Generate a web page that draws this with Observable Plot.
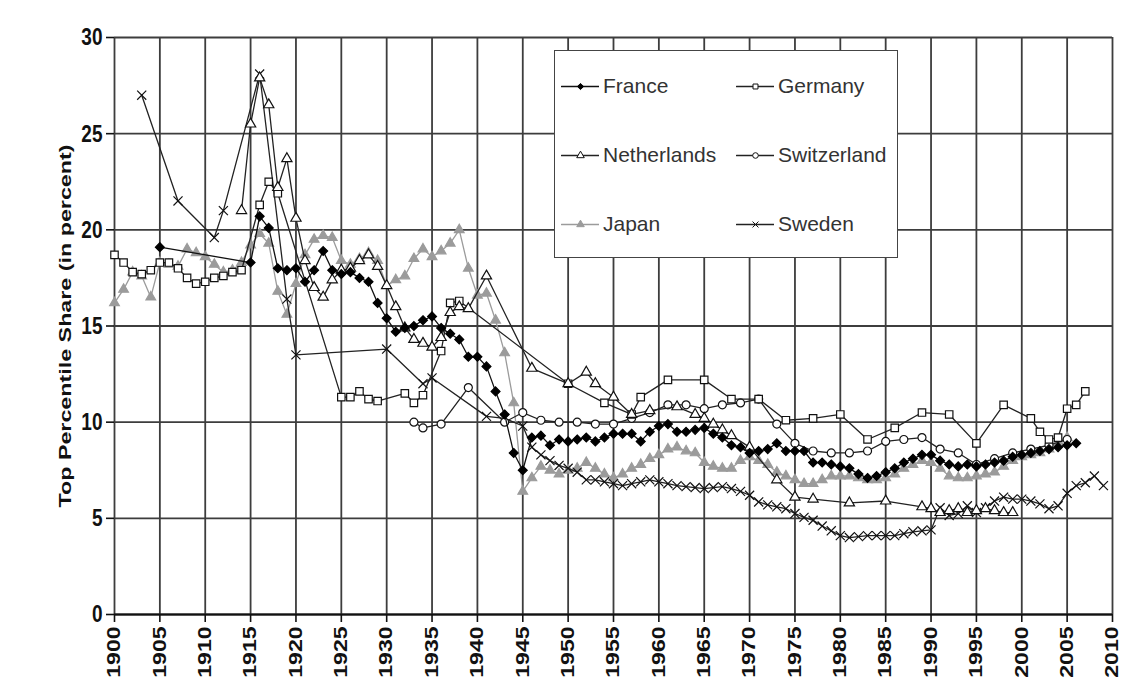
<!DOCTYPE html>
<html><head><meta charset="utf-8">
<script src="https://cdn.jsdelivr.net/npm/d3@7"></script>
<script src="https://cdn.jsdelivr.net/npm/@observablehq/plot@0.6"></script>
<style>
html,body{margin:0;padding:0;background:#fff;}
#wrap{position:relative;width:1129px;height:682px;overflow:hidden;background:#fff;}
#legend{position:absolute;left:554px;top:50px;width:342px;height:206px;background:#fff;border:1.6px solid #444;font-family:"Liberation Sans",Arial,sans-serif;font-size:21px;color:#333;}
.item{position:absolute;display:flex;align-items:center;height:30px;}
.item svg{margin-right:4px;}
</style></head><body><div id="wrap"></div>
<script>
// ---- data ----
const franceYears = [1905,1915,1916,1917,1918,1919,1920,1921,1922,1923,1924,1925,1926,1927,1928,1929,1930,1931,1932,1933,1934,1935,1936,1937,1938,1939,1940,1941,1942,1943,1944,1945,1946,1947,1948,1949,1950,1951,1952,1953,1954,1955,1956,1957,1958,1959,1960,1961,1962,1963,1964,1965,1966,1967,1968,1969,1970,1971,1972,1973,1974,1975,1976,1977,1978,1979,1980,1981,1982,1983,1984,1985,1986,1987,1988,1989,1990,1991,1992,1993,1994,1995,1996,1997,1998,1999,2000,2001,2002,2003,2004,2005,2006];
const franceValues = [19.1,18.3,20.7,20.1,18.0,17.9,18.0,17.3,17.9,18.9,17.9,17.7,17.8,17.5,17.3,16.2,15.4,14.7,14.9,15.0,15.3,15.5,14.9,14.6,14.3,13.4,13.4,12.9,11.6,10.4,8.4,7.5,9.2,9.3,8.8,9.1,9.0,9.1,9.2,9.0,9.2,9.4,9.4,9.4,9.0,9.5,9.8,9.9,9.5,9.5,9.6,9.7,9.4,9.2,8.8,8.7,8.4,8.5,8.6,8.9,8.5,8.5,8.5,7.9,7.9,7.8,7.7,7.6,7.3,7.1,7.2,7.4,7.6,7.9,8.1,8.3,8.3,8.0,7.8,7.7,7.8,7.7,7.8,7.9,8.0,8.2,8.3,8.4,8.5,8.6,8.7,8.8,8.9];

const germanyYears = [1900,1901,1902,1903,1904,1905,1906,1907,1908,1909,1910,1911,1912,1913,1914,1916,1917,1918,1925,1926,1927,1928,1929,1932,1933,1934,1936,1937,1938,1950,1954,1957,1958,1961,1965,1968,1971,1974,1977,1980,1983,1986,1989,1992,1995,1998,2001,2002,2003,2004,2005,2006,2007];
const germanyValues = [18.7,18.3,17.8,17.7,17.9,18.3,18.3,18.0,17.5,17.2,17.3,17.5,17.6,17.8,17.9,21.3,22.5,21.9,11.3,11.3,11.6,11.2,11.1,11.5,11.0,11.4,13.7,16.2,16.3,12.0,11.0,10.4,11.3,12.2,12.2,11.2,11.2,10.1,10.2,10.4,9.1,9.7,10.5,10.4,8.9,10.9,10.2,9.5,9.1,9.2,10.7,10.9,11.6];

const netherlandsYears = [1914,1915,1916,1917,1918,1919,1920,1921,1922,1923,1924,1925,1926,1927,1928,1929,1930,1931,1932,1933,1934,1935,1936,1937,1938,1939,1941,1946,1950,1952,1953,1955,1957,1959,1962,1964,1965,1966,1967,1968,1970,1973,1975,1977,1981,1985,1989,1990,1991,1992,1993,1994,1995,1996,1997,1998,1999];
const netherlandsValues = [21.0,25.5,27.9,26.5,22.2,23.7,20.6,18.4,17.0,16.5,17.4,17.9,18.0,18.4,18.7,18.1,17.1,16.0,14.9,14.3,14.1,13.9,14.4,15.7,16.0,15.9,17.6,12.8,12.0,12.6,12.0,11.3,10.4,10.6,10.8,10.4,10.2,9.9,9.6,9.3,8.7,7.0,6.1,6.0,5.8,5.9,5.6,5.5,5.3,5.4,5.5,5.3,5.4,5.5,5.4,5.3,5.3];

const switzerlandYears = [1933,1934,1936,1939,1943,1945,1947,1949,1951,1953,1955,1957,1959,1961,1963,1965,1967,1969,1971,1973,1975,1977,1979,1981,1983,1985,1987,1989,1991,1993,1995,1997,1999,2001,2003,2005];
const switzerlandValues = [10.0,9.7,9.9,11.8,10.0,10.5,10.1,10.0,10.0,9.9,9.9,10.2,10.5,10.9,10.9,10.7,10.9,11.0,11.2,9.9,8.9,8.5,8.4,8.4,8.5,9.0,9.1,9.2,8.6,8.4,7.8,8.1,8.4,8.6,8.8,9.1];

const japanYears = d3.range(1900, 2006);
const japanValues = [16.2,16.9,17.8,17.6,16.5,18.3,18.2,18.1,19.0,18.8,18.6,18.2,17.8,17.9,18.3,19.2,19.8,19.3,16.8,15.6,17.2,18.7,19.5,19.7,19.6,18.4,18.2,18.5,18.8,18.4,17.1,17.4,17.6,18.5,19.0,18.6,18.9,19.3,20.0,18.0,16.6,16.7,15.3,13.6,11.0,6.4,7.1,7.7,7.5,7.3,7.5,7.6,7.9,7.6,7.3,7.1,7.3,7.6,7.8,8.1,8.3,8.6,8.7,8.5,8.4,7.9,7.7,7.6,7.6,8.0,8.2,8.0,7.8,7.4,7.2,7.0,6.8,6.8,7.0,7.2,7.2,7.2,7.1,7.0,7.0,7.1,7.3,7.6,7.8,8.0,7.9,7.6,7.2,7.1,7.1,7.2,7.3,7.4,7.7,8.0,8.2,8.3,8.4,8.6,9.0,9.2];

const swedenYears = [1903,1907,1911,1912,1916,1919,1920,1930,1934,1935,1941,1943,1945,1946,1947,1948,1949,1950,1951,1952,1953,1954,1955,1956,1957,1958,1959,1960,1961,1962,1963,1964,1965,1966,1967,1968,1969,1970,1971,1972,1973,1974,1975,1976,1977,1978,1979,1980,1981,1982,1983,1984,1985,1986,1987,1988,1989,1990,1991,1992,1993,1994,1995,1996,1997,1998,1999,2000,2001,2002,2003,2004,2005,2006,2007,2008,2009];
const swedenValues = [27.0,21.5,19.6,21.0,28.1,16.4,13.5,13.8,12.0,12.3,10.3,10.2,9.8,8.7,8.3,8.0,7.75,7.6,7.4,7.0,7.0,6.9,6.8,6.7,6.8,6.9,7.0,6.9,6.8,6.7,6.65,6.6,6.55,6.6,6.65,6.55,6.4,6.2,5.85,5.7,5.6,5.5,5.25,5.05,4.9,4.6,4.35,4.1,4.0,4.05,4.1,4.1,4.1,4.1,4.2,4.3,4.35,4.4,5.55,5.15,5.25,5.65,5.3,5.55,5.9,6.1,6.0,6.0,5.9,5.75,5.5,5.65,6.3,6.7,6.85,7.2,6.7];

const xTicks = d3.range(1900, 2011, 5);
const yTicks = [0, 5, 10, 15, 20, 25, 30];
const yLabel = "Top Percentile Share (in percent)";

// ---- series styling (drawing order: Japan first, under the black series) ----
const series = [
  {name: "Japan", years: japanYears, values: japanValues, stroke: "#9b9b9b", symbol: "triangle", fill: "#9b9b9b", mstroke: "#9b9b9b", r: 3.6},
  {name: "Sweden", years: swedenYears, values: swedenValues, stroke: "#222", symbol: "times", fill: "none", mstroke: "#111", r: 4.2},
  {name: "Switzerland", years: switzerlandYears, values: switzerlandValues, stroke: "#222", symbol: "circle", fill: "#fff", mstroke: "#111", r: 4},
  {name: "Germany", years: germanyYears, values: germanyValues, stroke: "#222", symbol: "square", fill: "#fff", mstroke: "#111", r: 4.2},
  {name: "Netherlands", years: netherlandsYears, values: netherlandsValues, stroke: "#222", symbol: "triangle", fill: "#fff", mstroke: "#111", r: 3.8},
  {name: "France", years: franceYears, values: franceValues, stroke: "#111", symbol: "diamond2", fill: "#000", mstroke: "#000", r: 4}
];

const marks = [
  Plot.gridX(xTicks, {stroke: "#3d3d3d", strokeOpacity: 1, strokeWidth: 1.8}),
  Plot.gridY(yTicks, {stroke: "#3d3d3d", strokeOpacity: 1, strokeWidth: 1.8})
];
for (const s of series) {
  const rows = s.years.map((yr, i) => ({year: yr, value: s.values[i]}));
  marks.push(Plot.line(rows, {x: "year", y: "value", stroke: s.stroke, strokeWidth: 1.3}));
  marks.push(Plot.dot(rows, {x: "year", y: "value", symbol: () => s.symbol, fill: s.fill, stroke: s.mstroke, strokeWidth: 1.2, r: s.r}));
}
marks.push(
  Plot.ruleY([0], {stroke: "#111", strokeWidth: 2}),
  Plot.axisX({ticks: xTicks, tickFormat: d => String(d), tickRotate: -90, tickSize: 8, tickPadding: 4, fontSize: 18, fontWeight: "bold", label: null, stroke: "#111", strokeWidth: 1.6}),
  Plot.axisY({ticks: yTicks, tickSize: 8, tickPadding: 4, fontSize: 19, fontWeight: "bold", label: null, stroke: "#111", strokeWidth: 1.6}),
  Plot.text([yLabel], {text: d => d, frameAnchor: "left", textAnchor: "middle", lineAnchor: "middle", rotate: -90, dx: -49, fontSize: 17, fontWeight: "bold", fill: "#111"})
);

const chart = Plot.plot({
  width: 1129, height: 682,
  marginLeft: 114, marginRight: 17, marginTop: 37, marginBottom: 68,
  x: {domain: [1900, 2010]},
  y: {domain: [0, 30]},
  style: {fontFamily: "'Liberation Sans', Arial, sans-serif", fontWeight: "bold", color: "#111", background: "#fff", overflow: "hidden"},
  marks
});

// the original figure is vertically stretched: stretch text glyphs likewise
function stretch(texts, sx, sy) {
  texts.forEach(t => {
    const tr = t.getAttribute("transform");
    if (tr) t.setAttribute("transform", tr + ` scale(${sx},${sy})`);
    else {
      const x = +t.getAttribute("x") || 0, y = +t.getAttribute("y") || 0;
      t.removeAttribute("x"); t.removeAttribute("y");
      t.setAttribute("transform", `translate(${x},${y}) scale(${sx},${sy})`);
    }
  });
}
stretch(chart.querySelectorAll('[aria-label="x-axis tick label"] text'), 1.28, 1);
stretch(chart.querySelectorAll('[aria-label="y-axis tick label"] text'), 1, 1.3);
stretch(chart.querySelectorAll('[aria-label="text"] text'), 1.37, 1);

const wrap = document.getElementById("wrap");
wrap.appendChild(chart);

// ---- legend ----
const legendOrder = ["France", "Germany", "Netherlands", "Switzerland", "Japan", "Sweden"];
const legend = document.createElement("div");
legend.id = "legend";
legendOrder.forEach((name, i) => {
  const s = series.find(d => d.name === name);
  const col = i % 2, row = Math.floor(i / 2);
  const item = document.createElement("div");
  item.className = "item";
  item.style.left = (col ? 181 : 6) + "px";
  item.style.top = (20 + row * 69) + "px";
  const sym = Plot.plot({
    width: 38, height: 30, margin: 0,
    x: {domain: [0, 1]}, y: {domain: [0, 1]}, axis: null,
    marks: [
      Plot.lineY([0.5, 0.5], {x: [0, 1], y: [0.5, 0.5], stroke: s.stroke, strokeWidth: 1.3}),
      Plot.dot([0], {x: 0.5, y: 0.5, symbol: () => s.symbol, fill: s.fill, stroke: s.mstroke, r: 2.8, strokeWidth: 1})
    ]
  });
  item.appendChild(sym);
  const label = document.createElement("span");
  label.textContent = name;
  item.appendChild(label);
  legend.appendChild(item);
});
wrap.appendChild(legend);
</script></body></html>
